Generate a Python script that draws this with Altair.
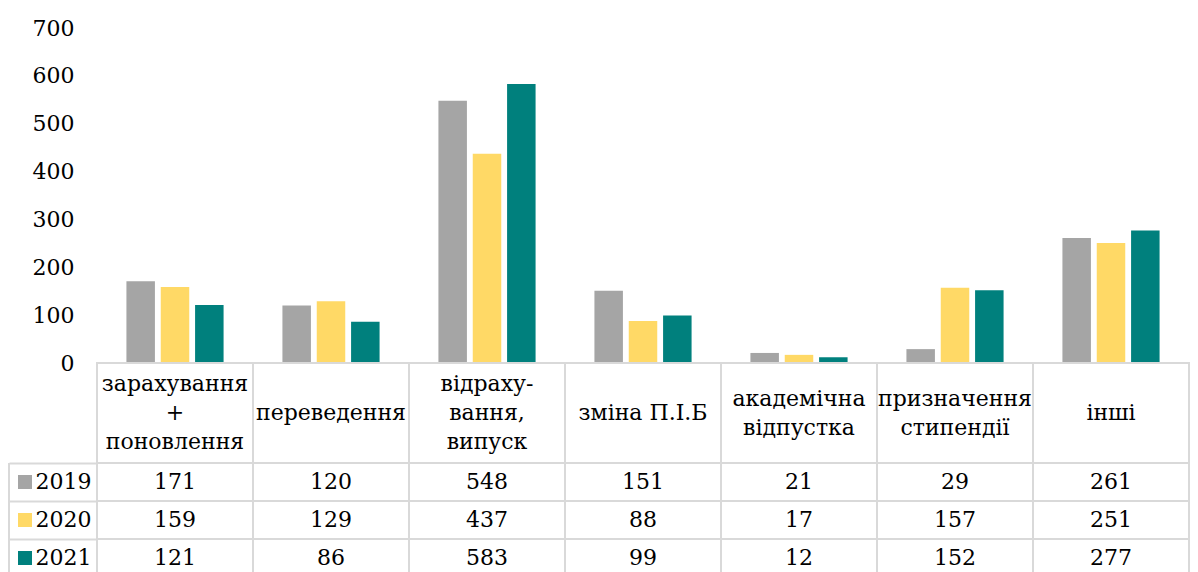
import altair as alt
import pandas as pd

categories = ["зарахування + поновлення", "переведення", "відраху-вання, випуск",
              "зміна П.І.Б", "академічна відпустка", "призначення стипендії", "інші"]
header_labels = ["зарахування\n+\nпоновлення", "переведення", "відраху-\nвання,\nвипуск",
                 "зміна П.І.Б", "академічна\nвідпустка", "призначення\nстипендії", "інші"]
years = ["2019", "2020", "2021"]
values_2019 = [171, 120, 548, 151, 21, 29, 261]
values_2020 = [159, 129, 437, 88, 17, 157, 251]
values_2021 = [121, 86, 583, 99, 12, 152, 277]
colors = ["#A5A5A5", "#FFD966", "#00807D"]
y_ticks = [0, 100, 200, 300, 400, 500, 600, 700]

FONT = "DejaVu Serif"
FS = 22
LH = 29
BORDER = "#D9D9D9"
W = 1092

rows = []
for yr, vals in zip(years, [values_2019, values_2020, values_2021]):
    for c, v in zip(categories, vals):
        rows.append({"category": c, "year": yr, "value": v})
df = pd.DataFrame(rows)
hdr = pd.DataFrame({"category": categories, "label": header_labels,
                    "nlines": [lbl.count("\n") + 1 for lbl in header_labels]})

x_enc = alt.X("category:N", sort=categories,
              scale=alt.Scale(paddingInner=0, paddingOuter=0), axis=None)
color_enc = alt.Color("year:N", scale=alt.Scale(domain=years, range=colors), legend=None)

bars = alt.Chart(df).mark_bar().encode(
    x=x_enc,
    xOffset=alt.XOffset("year:N", sort=years,
                        scale=alt.Scale(paddingInner=0.17, paddingOuter=0.857)),
    y=alt.Y("value:Q", scale=alt.Scale(domain=[0, 700]),
            axis=alt.Axis(values=y_ticks, grid=False, domain=False, ticks=False,
                          labelFontSize=FS, labelFont=FONT, labelColor="black",
                          labelPadding=23, title=None)),
    color=color_enc,
).properties(width=W, height=335)

header_rect = alt.Chart(hdr).mark_rect(fill="white", stroke=BORDER, strokeWidth=2).encode(x=x_enc)
header_layers = [header_rect]
for n in (1, 2, 3):
    header_layers.append(
        alt.Chart(hdr).transform_filter(alt.datum.nlines == n).mark_text(
            lineBreak="\n", lineHeight=LH, fontSize=FS, font=FONT, color="black",
            baseline="middle", dy=-(n - 1) * LH / 2
        ).encode(x=x_enc, text="label:N")
    )
header = alt.layer(*header_layers).properties(width=W, height=100)

y_enc = alt.Y("year:N", sort=years, scale=alt.Scale(paddingInner=0, paddingOuter=0),
              axis=alt.Axis(title=None, domain=False, ticks=True, tickSize=88,
                            tickColor=BORDER, tickWidth=2, bandPosition=0,
                            labelPadding=-82, labelFontSize=FS,
                            labelFont=FONT, labelColor="black", labelAlign="right",
                            labelBaseline="middle"))

cell_rect = alt.Chart(df).mark_rect(fill="white", stroke=BORDER, strokeWidth=2).encode(
    x=x_enc, y=y_enc)
cell_text = alt.Chart(df).mark_text(fontSize=FS, font=FONT, color="black").encode(
    x=x_enc, y=y_enc, text="value:Q")
keys = alt.Chart(pd.DataFrame({"year": years})).mark_point(
    shape="square", filled=True, size=196, opacity=1).encode(
    y=y_enc, x=alt.value(-72), color=color_enc)
left_border = alt.Chart(pd.DataFrame({"year": years})).mark_rule(
    color=BORDER, strokeWidth=2).encode(
    x=alt.value(-88), y=alt.value(0), y2=alt.value(114))
table = alt.layer(cell_rect, cell_text, keys, left_border).properties(width=W, height=114)

chart = alt.vconcat(bars, header, table, spacing=0, bounds="flush").properties(
    padding={"left": 0, "top": 9, "right": 0, "bottom": 0}
).configure_view(stroke=None)

chart.save("out.html", embed_options={"renderer": "svg", "actions": False})
